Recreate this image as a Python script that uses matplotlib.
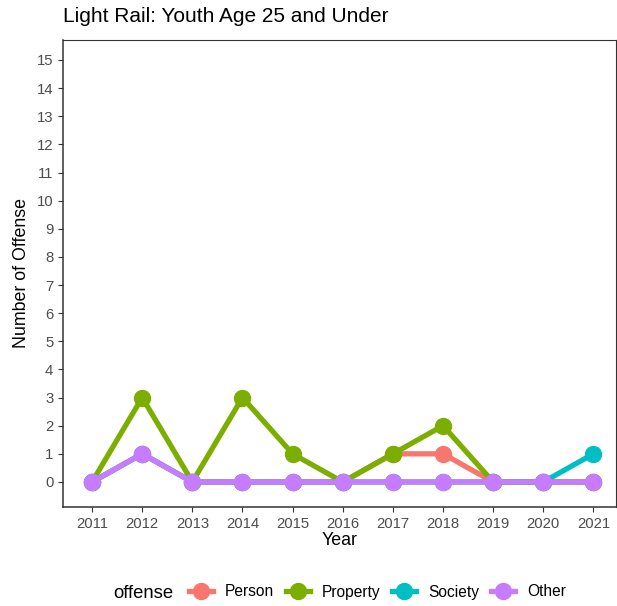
import matplotlib.pyplot as plt
from matplotlib.lines import Line2D

plt.rcParams['font.family'] = ['Liberation Sans', 'DejaVu Sans']

years = [2011, 2012, 2013, 2014, 2015, 2016, 2017, 2018, 2019, 2020, 2021]
offenses = ["Person", "Property", "Society", "Other"]
counts = {
    "Person":   [0, 1, 0, 0, 0, 0, 1, 1, 0, 0, 0],
    "Property": [0, 3, 0, 3, 1, 0, 1, 2, 0, 0, 0],
    "Society":  [0, 1, 0, 0, 0, 0, 0, 0, 0, 0, 1],
    "Other":    [0, 1, 0, 0, 0, 0, 0, 0, 0, 0, 0],
}
colors = {"Person": "#F8766D", "Property": "#7CAE00", "Society": "#00BFC4", "Other": "#C77CFF"}

fig = plt.figure(figsize=(6.17, 6.06), dpi=100)
ax = fig.add_axes([63 / 617, 1 - 507 / 606, (616 - 63) / 617, (507 - 40) / 606])

for name in offenses:
    ax.plot(years, counts[name], color=colors[name], lw=3.8, marker="o", ms=11.5,
            solid_capstyle="butt", zorder=3)

ax.set_xlim(2010.42, 2021.45)
ax.set_ylim(-0.89, 15.71)
ax.set_xticks(years)
ax.set_yticks(range(16))
ax.tick_params(colors="#333333", labelsize=10.7, length=3.5, width=0.8, labelcolor="#4d4d4d")
for s in ax.spines.values():
    s.set_linewidth(0.8)
    s.set_color("#333333")
ax.spines["left"].set_linewidth(1.1)
ax.spines["bottom"].set_linewidth(1.1)

ax.set_xlabel("Year", fontsize=12.8, labelpad=1)
ax.set_ylabel("Number of Offense", fontsize=12.8, labelpad=5)
fig.text(63 / 617, 1 - 17 / 606, "Light Rail: Youth Age 25 and Under", fontsize=15,
         va="center", ha="left")

handles = [Line2D([], [], color=colors[n], lw=3.8, marker="o", ms=11.5) for n in offenses]
fig.text(113 / 617, 1 - 594 / 606, "offense", fontsize=13.3, va="center", ha="left")
fig.legend(handles, offenses, loc="center left", bbox_to_anchor=(184 / 617, 1 - 592 / 606),
           ncol=4, frameon=False, fontsize=11.2, handlelength=1.55, columnspacing=0.72,
           handletextpad=0.8, borderaxespad=0, borderpad=0.3)

fig.savefig("out.png", dpi=100)
